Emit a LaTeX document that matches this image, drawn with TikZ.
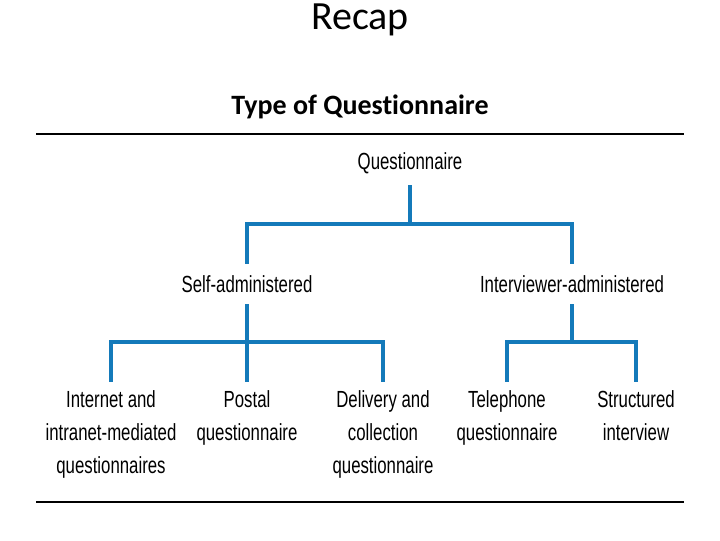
\documentclass[tikz,border=0pt]{standalone}
\usepackage{fontspec}
\setmainfont{Carlito}[Ligatures={NoCommon}]
\newfontfamily\cond[FakeStretch=0.72]{Liberation Sans}
\definecolor{qblue}{RGB}{20,122,186}
\begin{document}
\begin{tikzpicture}[x=0.75pt,y=-0.75pt,
  lbl/.style={font=\cond\fontsize{17.5pt}{24.75pt}\selectfont,align=center,inner sep=0pt,text=black},
  conn/.style={draw=qblue,line width=3pt,line join=miter,line cap=rect},
  rule/.style={draw=black,line width=0.8pt}]
\useasboundingbox (0,0) rectangle (720,540);
\node[font=\fontsize{30pt}{36pt}\selectfont,inner sep=0pt] (recap) at (360,20) {Recap};
\node[font=\bfseries\fontsize{21pt}{25pt}\selectfont,inner sep=0pt] (title) at (360,107) {Type of Questionnaire};
\coordinate (r1a) at (36,134); \coordinate (r1b) at (684,134);
\coordinate (r2a) at (36,502); \coordinate (r2b) at (684,502);
\draw[rule] (r1a) -- (r1b);
\draw[rule] (r2a) -- (r2b);
% nodes
\node[lbl] (q) at (410,163) {Questionnaire};
\node[lbl] (sa) at (247,284) {Self-administered};
\node[lbl] (ia) at (572,284) {Interviewer-administered};
\node[lbl,anchor=north] (inet) at (111,390) {Internet and\\intranet-mediated\\questionnaires};
\node[lbl,anchor=north] (post) at (247,390) {Postal\\questionnaire};
\node[lbl,anchor=north] (deliv) at (383,390) {Delivery and\\collection\\questionnaire};
\node[lbl,anchor=north] (tel) at (507,390) {Telephone\\questionnaire};
\node[lbl,anchor=north] (struct) at (636,390) {Structured\\interview};
% junctions
\coordinate (j1) at (410,224);
\coordinate (j2) at (247,342);
\coordinate (j3) at (572,342);
% connectors
\draw[conn] ([yshift=-18pt]q.center) -- (j1);
\draw[conn] ([yshift=16.5pt]sa.center) -- (sa |- j1) -- (ia |- j1) -- ([yshift=16.5pt]ia.center);
\draw[conn] ([yshift=-16.5pt]sa.center) -- (j2);
\draw[conn] ([yshift=7.5pt]inet.north) -- (inet |- j2) -- (deliv |- j2) -- ([yshift=7.5pt]deliv.north);
\draw[conn] (j2) -- ([yshift=7.5pt]post.north);
\draw[conn] ([yshift=-16.5pt]ia.center) -- (j3);
\draw[conn] ([yshift=7.5pt]tel.north) -- (tel |- j3) -- (struct |- j3) -- ([yshift=7.5pt]struct.north);
\end{tikzpicture}
\end{document}
